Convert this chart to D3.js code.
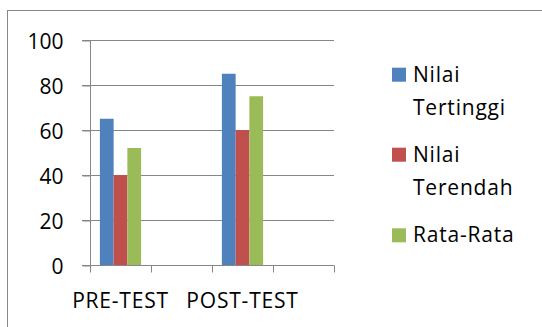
<!DOCTYPE html>
<html><head><meta charset="utf-8">
<script src="https://cdn.jsdelivr.net/npm/d3@7"></script>
<style>body{margin:0;background:#fff}svg{display:block}text{font-family:"Open Sans",sans-serif;fill:#000}</style>
</head><body>
<script>
const categories = ["PRE-TEST", "", "POST-TEST", ""];
const seriesNames = [["Nilai", "Tertinggi"], ["Nilai", "Terendah"], ["Rata-Rata"]];
const nilaiTertinggi = [65, null, 85, null];
const nilaiTerendah = [40, null, 60, null];
const rataRata = [52, null, 75, null];
const yTicks = [0, 20, 40, 60, 80, 100];
const colors = ["#4f81bd", "#c0504d", "#9bbb59"];

const W = 542, H = 327;
const svg = d3.select("body").append("svg").attr("width", W).attr("height", H);
svg.append("rect").attr("x", 7.5).attr("y", 10.5).attr("width", 560).attr("height", 340)
  .attr("fill", "none").attr("stroke", "#888").attr("stroke-width", 1);

const x = d3.scaleBand().domain(d3.range(categories.length)).range([90, 334]).paddingInner(0).paddingOuter(0);
const y = d3.scaleLinear().domain([0, 100]).range([265, 40]);
const series = [nilaiTertinggi, nilaiTerendah, rataRata];
const inner = d3.scaleBand().domain([0, 1, 2]).range([0, x.bandwidth()]).paddingInner(0).paddingOuter(0.72);

// gridlines
svg.append("g").selectAll("line").data(yTicks.filter(d => d > 0)).join("line")
  .attr("x1", 82).attr("x2", 334).attr("y1", d => Math.round(y(d)) + 0.5).attr("y2", d => Math.round(y(d)) + 0.5)
  .attr("stroke", "#868686").attr("stroke-width", 1);
// y axis
const yAxis = d3.axisLeft(y).tickValues(yTicks).tickSize(8).tickPadding(19).tickFormat(d3.format("d"));
const gy = svg.append("g").attr("transform", "translate(90.5,0.5)").call(yAxis);
gy.selectAll("path,line").attr("stroke", "#868686");
gy.select(".domain").attr("d", "M0," + y(0) + "V" + y(100));
gy.selectAll("text").style("font-size", "21px").style("font-family", '"Open Sans",sans-serif').attr("fill", "#000").attr("dy", "0.36em");

// bars
series.forEach((s, i) => {
  svg.append("g").selectAll("rect").data(s.map((v, j) => ({v, j})).filter(d => d.v != null)).join("rect")
    .attr("x", d => x(d.j) + inner(i)).attr("width", inner.bandwidth())
    .attr("y", d => y(d.v)).attr("height", d => y(0) - y(d.v))
    .attr("fill", colors[i]);
});

// x axis
const gx = svg.append("g").attr("transform", "translate(0," + (Math.round(y(0)) + 0.5) + ")");
gx.append("line").attr("x1", 82).attr("x2", 334).attr("stroke", "#868686");
const tickPos = d3.range(categories.length + 1).map(i => i < categories.length ? x(i) : x.range()[1]);
gx.selectAll(".t").data(tickPos).join("line").attr("class", "t")
  .attr("x1", d => Math.round(d) + 0.5).attr("x2", d => Math.round(d) + 0.5).attr("y1", 0).attr("y2", 7)
  .attr("stroke", "#868686");
gx.selectAll("text").data(categories).join("text")
  .attr("x", (d, i) => x(i) + x.bandwidth() / 2).attr("y", 42)
  .attr("text-anchor", "middle").style("font-size", "21px").style("letter-spacing", "0.8px").text(d => d);

// legend
const legendY = [81.7, 161.7, 242.3];
const lg = svg.append("g");
seriesNames.forEach((lines, i) => {
  lg.append("rect").attr("x", 392).attr("y", legendY[i] - 14).attr("width", 14).attr("height", 14).attr("fill", colors[i]);
  lines.forEach((t, k) => {
    lg.append("text").attr("x", 413).attr("y", legendY[i] + k * 33).style("font-size", "21px").style("letter-spacing", "0.8px").text(t);
  });
});
</script>
</body></html>
